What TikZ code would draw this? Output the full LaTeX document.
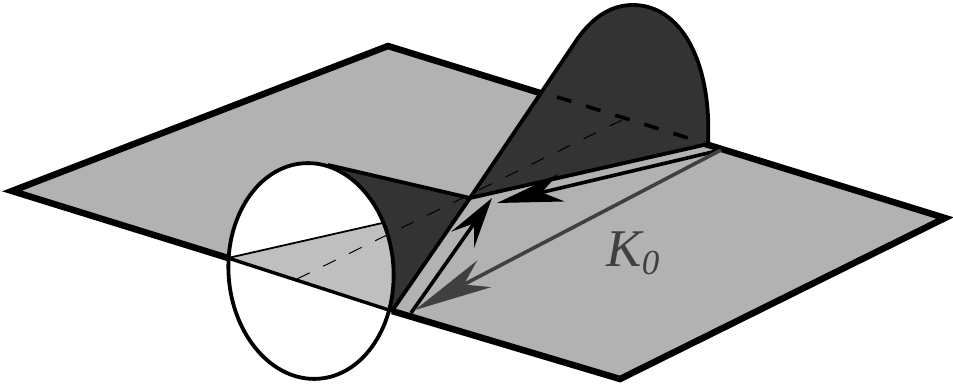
\documentclass[tikz,border=0pt]{standalone}
\usepackage{fontspec}
\setmainfont{Liberation Serif}
\usetikzlibrary{arrows.meta}
\definecolor{planegray}{gray}{0.70}
\definecolor{lightgray}{gray}{0.75}
\definecolor{darkgray}{gray}{0.20}
\definecolor{arrowgray}{gray}{0.25}
\tikzset{
  edgeline/.style={line width=6.5pt,line join=miter},
  foldline/.style={line width=3.8pt},
  blackarrow/.style={line width=3.6pt,-{Stealth[length=#1,width=28pt,inset=20pt,sep=0pt]}},
  grayarrow/.style={line width=3.6pt,color=arrowgray,-{Stealth[length=78pt,width=30pt,inset=23pt,sep=0pt]}}
}
\begin{document}
\begin{tikzpicture}[x=1pt,y=-1pt]
  \useasboundingbox (0,0) rectangle (953,389);
  \coordinate (west) at (12,191);
  \coordinate (north) at (388,46);
  \coordinate (east) at (945,218);
  \coordinate (south) at (620,379);
  \coordinate (ringleft) at (228,258);
  \coordinate (ringright) at (392,311);
  \coordinate (pinch) at (470,198);
  \coordinate (foldend) at (708,144);
  \coordinate (conetop) at (328,165);
  \coordinate (ringcentre) at (311,271);
  \fill[planegray] (west) -- (north) -- (east) -- (south) -- cycle;
  \draw[edgeline] (ringleft) -- (west) -- (north) -- (east) -- (south) -- (ringright);
  \fill[darkgray] (conetop) -- (pinch) -- (ringright) -- cycle;
  \draw[foldline] (conetop) -- (pinch) -- (ringright);
  \fill[white,rotate around={4:(ringcentre)}] (ringcentre) ellipse [x radius=82.5,y radius=108];
  \begin{scope}
    \clip[rotate around={4:(ringcentre)}] (ringcentre) ellipse [x radius=82.5,y radius=108];
    \fill[lightgray] (ringleft) -- (400,219) -- (400,314) -- cycle;
    \draw[line width=1.8pt] (ringleft) -- (400,219);
  \end{scope}
  \draw[line width=3.4pt] (ringleft) -- (ringright);
  \draw[line width=3.8pt,rotate around={4:(ringcentre)}] (ringcentre) ellipse [x radius=82.5,y radius=108];
  \fill[darkgray] (pinch) -- (578,38) .. controls (594,16) and (612,5) .. (633,5)
    .. controls (680,5) and (712,60) .. (708,144) -- cycle;
  \draw[foldline] (pinch) -- (578,38) .. controls (594,16) and (612,5) .. (633,5)
    .. controls (680,5) and (712,60) .. (foldend) -- cycle;
  \draw[line width=3.6pt,dash pattern=on 15pt off 15.5pt] (557,97) -- (688,138);
  \draw[line width=1pt,dash pattern=on 14pt off 15pt] (297,279) -- (622,120);
  \coordinate (tailA) at (721,150);
  \coordinate (tipA) at (497,203);
  \coordinate (tailB) at (411,313);
  \coordinate (tipB) at (492,198);
  \coordinate (tipC) at (415,310);
  \draw[blackarrow=66pt] (tailA) -- (tipA);
  \draw[blackarrow=51pt] (tailB) -- (tipB);
  \draw[grayarrow] (tailA) -- (tipC);
  \node[text=arrowgray,font=\itshape\fontsize{53}{53}\selectfont,inner sep=0pt] (kzero) at (633,253)
    {K\raisebox{-8pt}{\fontsize{35}{35}\selectfont 0}};
\end{tikzpicture}
\end{document}
